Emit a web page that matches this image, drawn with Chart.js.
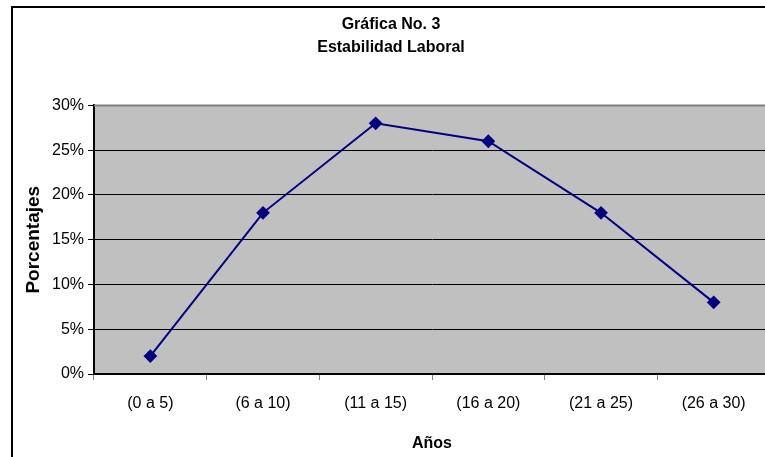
<!DOCTYPE html>
<html>
<head>
<meta charset="utf-8">
<script src="https://cdn.jsdelivr.net/npm/chart.js@4/dist/chart.umd.min.js"></script>
<style>
  html, body { margin: 0; padding: 0; overflow: hidden; background: #fff; }
  #wrap { width: 765px; height: 457px; overflow: hidden; }
</style>
</head>
<body>
<div id="wrap"><canvas id="grafica" width="780" height="470"></canvas></div>
<script>
const categorias = ['(0 a 5)', '(6 a 10)', '(11 a 15)', '(16 a 20)', '(21 a 25)', '(26 a 30)'];
const porcentajes = [2, 18, 28, 26, 18, 8];
const titulo = ['Gráfica No. 3', 'Estabilidad Laboral'];

// fondo gris del area de trazado y marco exterior
const fondoPlot = {
  id: 'fondoPlot',
  beforeDraw(chart) {
    const { ctx, chartArea: a } = chart;
    ctx.save();
    ctx.fillStyle = '#c0c0c0';
    ctx.fillRect(a.left, a.top, a.right - a.left, a.bottom - a.top);
    ctx.restore();
  },
  afterDraw(chart) {
    const { ctx, chartArea: a } = chart;
    ctx.save();
    ctx.strokeStyle = '#808080';
    ctx.lineWidth = 2;
    ctx.beginPath();
    ctx.moveTo(a.left, a.top);
    ctx.lineTo(a.right, a.top);
    ctx.stroke();
    ctx.strokeStyle = '#000';
    ctx.lineWidth = 2;
    ctx.strokeRect(12, 7, 900, 600);
    ctx.restore();
  }
};

new Chart(document.getElementById('grafica').getContext('2d'), {
  type: 'line',
  data: {
    labels: categorias,
    datasets: [{
      data: porcentajes,
      borderColor: '#000080',
      backgroundColor: '#000080',
      borderWidth: 2,
      pointStyle: 'rectRot',
      pointRadius: 5.5,
      pointHoverRadius: 5.5,
      tension: 0,
      clip: false
    }]
  },
  options: {
    responsive: false,
    animation: false,
    layout: { padding: { left: 12, right: 10, top: 0, bottom: 13 } },
    plugins: {
      legend: { display: false },
      tooltip: { enabled: false },
      title: {
        display: true,
        text: titulo,
        color: '#000',
        font: { family: 'Liberation Sans', size: 16, weight: 'bold', lineHeight: 1.45 },
        padding: { top: 13, bottom: 46 }
      }
    },
    scales: {
      x: {
        offset: true,
        grid: { offset: true, drawOnChartArea: false, tickLength: 6, color: '#808080' },
        border: { color: '#000', width: 2 },
        ticks: { color: '#000', font: { family: 'Liberation Sans', size: 16 }, padding: 14, maxRotation: 0 },
        title: { display: true, text: 'Años', color: '#000', font: { family: 'Liberation Sans', size: 16, weight: 'bold' }, padding: { top: 6 } },
        afterFit(scale) { scale.height = 83; }
      },
      y: {
        min: 0,
        max: 30,
        ticks: { stepSize: 5, color: '#000', font: { family: 'Liberation Sans', size: 16 }, padding: 4, callback: v => v + '%' },
        grid: { color: '#000', tickLength: 6 },
        border: { color: '#000', width: 2 },
        title: { display: true, text: 'Porcentajes', color: '#000', font: { family: 'Liberation Sans', size: 19, weight: 'bold' }, padding: { top: 10 } },
        afterFit(scale) { scale.width = 82; }
      }
    }
  },
  plugins: [fondoPlot]
});
</script>
</body>
</html>
